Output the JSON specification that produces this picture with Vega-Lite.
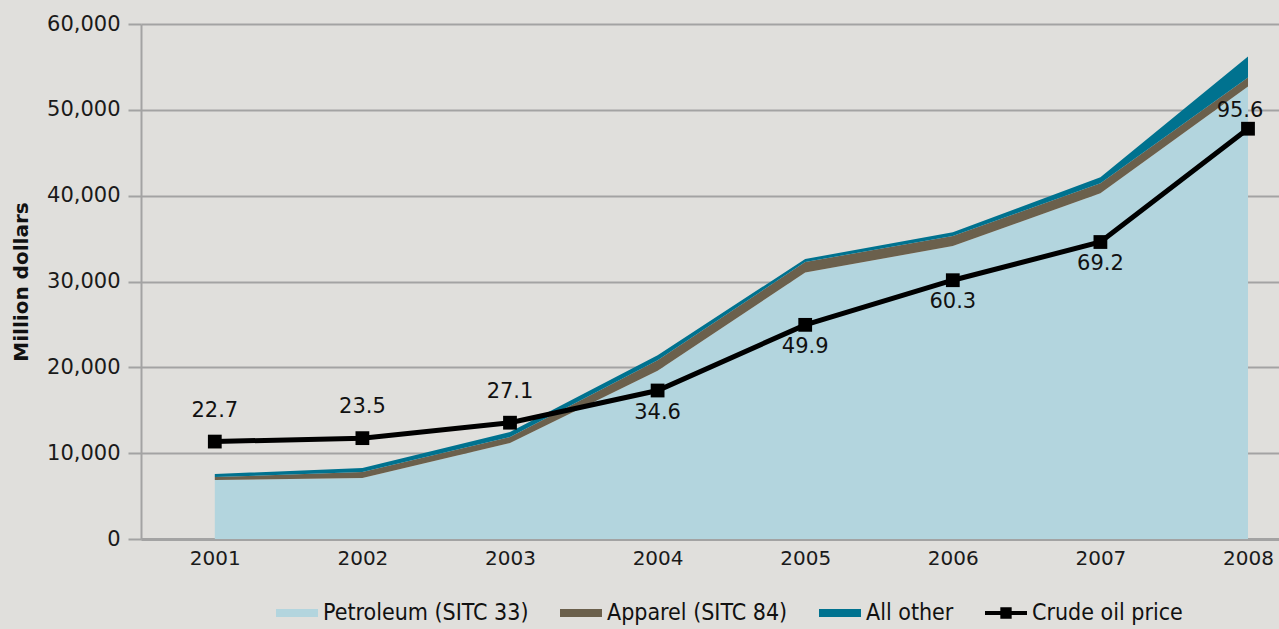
{
  "$schema": "https://vega.github.io/schema/vega-lite/v6.json",
  "width": 1138,
  "height": 515,
  "autosize": {"type": "none"},
  "padding": {"left": 141, "top": 24, "right": 0, "bottom": 90},
  "background": "#e0dfdc",
  "config": {
    "view": {"stroke": null},
    "font": "DejaVu Sans",
    "axis": {"labelFont": "DejaVu Sans", "labelFontSize": 20, "labelColor": "#1a1a1a", "domainColor": "#a3a3a3", "tickColor": "#a3a3a3", "gridColor": "#a3a3a3"}
  },
  "datasets": {
    "trade": [
      {"year": 2001, "cat": "Petroleum (SITC 33)", "value": 6870},
      {"year": 2001, "cat": "Apparel (SITC 84)", "value": 350},
      {"year": 2001, "cat": "All other", "value": 350},
      {"year": 2002, "cat": "Petroleum (SITC 33)", "value": 7100},
      {"year": 2002, "cat": "Apparel (SITC 84)", "value": 700},
      {"year": 2002, "cat": "All other", "value": 470},
      {"year": 2003, "cat": "Petroleum (SITC 33)", "value": 11180},
      {"year": 2003, "cat": "Apparel (SITC 84)", "value": 700},
      {"year": 2003, "cat": "All other", "value": 590},
      {"year": 2004, "cat": "Petroleum (SITC 33)", "value": 19600},
      {"year": 2004, "cat": "Apparel (SITC 84)", "value": 1220},
      {"year": 2004, "cat": "All other", "value": 600},
      {"year": 2005, "cat": "Petroleum (SITC 33)", "value": 31050},
      {"year": 2005, "cat": "Apparel (SITC 84)", "value": 1220},
      {"year": 2005, "cat": "All other", "value": 350},
      {"year": 2006, "cat": "Petroleum (SITC 33)", "value": 34130},
      {"year": 2006, "cat": "Apparel (SITC 84)", "value": 1170},
      {"year": 2006, "cat": "All other", "value": 430},
      {"year": 2007, "cat": "Petroleum (SITC 33)", "value": 40270},
      {"year": 2007, "cat": "Apparel (SITC 84)", "value": 1170},
      {"year": 2007, "cat": "All other", "value": 700},
      {"year": 2008, "cat": "Petroleum (SITC 33)", "value": 52720},
      {"year": 2008, "cat": "Apparel (SITC 84)", "value": 1050},
      {"year": 2008, "cat": "All other", "value": 2450}
    ],
    "oil": [
      {"year": 2001, "price": 22.7},
      {"year": 2002, "price": 23.5},
      {"year": 2003, "price": 27.1},
      {"year": 2004, "price": 34.6},
      {"year": 2005, "price": 49.9},
      {"year": 2006, "price": 60.3},
      {"year": 2007, "price": 69.2},
      {"year": 2008, "price": 95.6}
    ]
  },
  "layer": [
    {
      "data": {"name": "trade"},
      "mark": {"type": "area", "opacity": 1, "interpolate": "linear"},
      "encoding": {
        "x": {"field": "year", "type": "quantitative", "scale": {"domain": [2000.5, 2008.21], "nice": false, "zero": false},
              "axis": {"title": null, "values": [2001, 2002, 2003, 2004, 2005, 2006, 2007, 2008], "format": "d", "grid": false, "ticks": false, "labelPadding": 9, "domainWidth": 3, "labelFlush": false}},
        "y": {"field": "value", "type": "quantitative", "stack": "zero", "scale": {"domain": [0, 60000], "nice": false},
              "axis": {"title": "Million dollars", "titleFont": "DejaVu Sans", "titleFontWeight": "bold", "titleFontSize": 20, "titleColor": "#111", "titlePadding": 15, "values": [0, 10000, 20000, 30000, 40000, 50000, 60000], "format": ",d", "grid": true, "gridWidth": 2, "tickSize": 13, "tickWidth": 2, "domainWidth": 2, "labelPadding": 8, "labelFontSize": 21}},
        "color": {"field": "cat", "type": "nominal",
                  "sort": ["Petroleum (SITC 33)", "Apparel (SITC 84)", "All other", "Crude oil price"],
                  "scale": {"domain": ["Petroleum (SITC 33)", "Apparel (SITC 84)", "All other", "Crude oil price"], "range": ["#b3d5de", "#6b604c", "#00728f", "#000000"]},
                  "legend": {"title": null, "orient": "none", "direction": "horizontal", "legendX": 135, "legendY": 568,
                             "labelFont": "DejaVu Sans Condensed", "labelFontSize": 23, "labelColor": "#111", "symbolSize": 1764,
                             "labelLimit": 500, "labelOffset": 5, "columnPadding": 31, "symbolStrokeWidth": 0, "symbolOpacity": 1,
                             "encode": {"symbols": {"update": {"shape": {"signal": "datum.value === 'Crude oil price' ? 'M-1,-0.09H1V0.09H-1Z M-0.27,-0.27H0.27V0.27H-0.27Z' : 'M-1,-0.19H1V0.19H-1Z'"}}}}}}
      }
    },
    {
      "data": {"name": "oil"},
      "mark": {"type": "line", "color": "#000000", "strokeWidth": 5},
      "encoding": {
        "x": {"field": "year", "type": "quantitative"},
        "y": {"field": "price", "type": "quantitative", "scale": {"domain": [0, 120], "nice": false}, "axis": null}
      }
    },
    {
      "data": {"name": "oil"},
      "mark": {"type": "square", "color": "#000000", "filled": true, "opacity": 1, "size": 190},
      "encoding": {
        "x": {"field": "year", "type": "quantitative"},
        "y": {"field": "price", "type": "quantitative", "scale": {"domain": [0, 120], "nice": false}, "axis": null}
      }
    },
    {
      "data": {"name": "oil"},
      "transform": [{"filter": "datum.year <= 2003"}],
      "mark": {"type": "text", "fontSize": 21, "font": "DejaVu Sans", "color": "#111", "dy": -31},
      "encoding": {
        "x": {"field": "year", "type": "quantitative"},
        "y": {"field": "price", "type": "quantitative", "scale": {"domain": [0, 120], "nice": false}, "axis": null},
        "text": {"field": "price", "type": "quantitative", "format": ".1f"}
      }
    },
    {
      "data": {"name": "oil"},
      "transform": [{"filter": "datum.year >= 2004 && datum.year <= 2007"}],
      "mark": {"type": "text", "fontSize": 21, "font": "DejaVu Sans", "color": "#111", "dy": 22},
      "encoding": {
        "x": {"field": "year", "type": "quantitative"},
        "y": {"field": "price", "type": "quantitative", "scale": {"domain": [0, 120], "nice": false}, "axis": null},
        "text": {"field": "price", "type": "quantitative", "format": ".1f"}
      }
    },
    {
      "data": {"name": "oil"},
      "transform": [{"filter": "datum.year == 2008"}],
      "mark": {"type": "text", "fontSize": 21, "font": "DejaVu Sans", "color": "#111", "dy": -18, "dx": -8},
      "encoding": {
        "x": {"field": "year", "type": "quantitative"},
        "y": {"field": "price", "type": "quantitative", "scale": {"domain": [0, 120], "nice": false}, "axis": null},
        "text": {"field": "price", "type": "quantitative", "format": ".1f"}
      }
    }
  ],
  "resolve": {"scale": {"y": "independent"}}
}
